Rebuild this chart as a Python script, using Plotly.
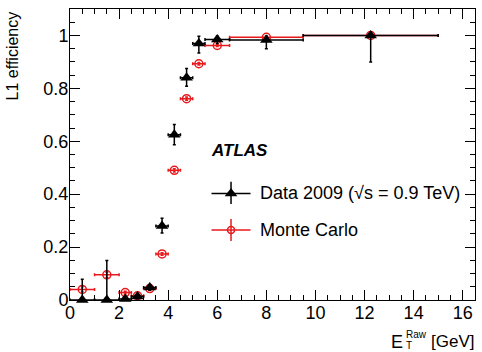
import plotly.graph_objects as go

# ---- data ----
x_data = [0.5, 1.5, 2.25, 2.75, 3.25, 3.75, 4.25, 4.75, 5.25, 6.0, 8.0, 12.25]
xerr_data = [0.5, 0.5, 0.25, 0.25, 0.25, 0.25, 0.25, 0.25, 0.25, 0.5, 1.5, 2.75]
y_data = [0.0, 0.0, 0.004, 0.013, 0.047, 0.28, 0.625, 0.84, 0.97, 0.985, 0.983, 1.0]
yerr_data_up = [0.078, 0.149, 0.008, 0.008, 0.01, 0.029, 0.038, 0.035, 0.027, 0.012, 0.015, 0.0]
yerr_data_dn = [0.0, 0.0, 0.004, 0.008, 0.01, 0.027, 0.038, 0.032, 0.036, 0.015, 0.033, 0.1]

x_mc = [0.5, 1.5, 2.25, 2.75, 3.25, 3.75, 4.25, 4.75, 5.25, 6.0, 8.0, 12.25]
xerr_mc = [0.5, 0.5, 0.25, 0.25, 0.25, 0.25, 0.25, 0.25, 0.25, 0.5, 1.5, 2.75]
y_mc = [0.04, 0.095, 0.028, 0.016, 0.043, 0.174, 0.49, 0.761, 0.893, 0.962, 0.993, 1.0]
yerr_mc = [0.01, 0.01, 0.005, 0.004, 0.005, 0.005, 0.006, 0.006, 0.005, 0.004, 0.003, 0.0]

legend_labels = ["Data 2009 (\u221as = 0.9 TeV)", "Monte Carlo"]

fig = go.Figure()

fig.add_trace(go.Scatter(
    x=x_mc, y=y_mc, mode="markers", cliponaxis=False,
    marker=dict(symbol="circle-open", size=8, color="#e8191c", line=dict(width=1.5, color="#e8191c")),
    error_x=dict(type="data", array=xerr_mc, color="#e8191c", thickness=1.5, width=1.5),
    error_y=dict(type="data", array=yerr_mc, color="#e8191c", thickness=1.5, width=1.5),
    showlegend=False))

fig.add_trace(go.Scatter(
    x=x_data, y=y_data, mode="markers", cliponaxis=False,
    marker=dict(symbol="triangle-up", size=11, color="black"),
    error_x=dict(type="data", array=xerr_data, color="black", thickness=1.5, width=1.5),
    error_y=dict(type="data", symmetric=False, array=yerr_data_up, arrayminus=yerr_data_dn,
                 color="black", thickness=1.5, width=1.5),
    showlegend=False))

# ---- hand-drawn legend samples ----
lx, lw = 6.56, 0.795
fig.add_trace(go.Scatter(
    x=[lx], y=[0.403], mode="markers", cliponaxis=False,
    marker=dict(symbol="triangle-up", size=11, color="black"),
    error_x=dict(type="constant", value=lw, color="black", thickness=1.5, width=0),
    error_y=dict(type="data", symmetric=False, array=[0.044], arrayminus=[0.040],
                 color="black", thickness=1.5, width=0),
    showlegend=False))
fig.add_trace(go.Scatter(
    x=[lx], y=[0.265], mode="markers", cliponaxis=False,
    marker=dict(symbol="circle-open", size=7, color="#e8191c", line=dict(width=1.5, color="#e8191c")),
    error_x=dict(type="constant", value=lw, color="#e8191c", thickness=1.5, width=0),
    error_y=dict(type="data", symmetric=False, array=[0.041], arrayminus=[0.042],
                 color="#e8191c", thickness=1.5, width=0),
    showlegend=False))

font = "Liberation Sans, Arial, Helvetica, sans-serif"
ann = [
    dict(text="<b><i>ATLAS</i></b>", x=0.3457, y=0.513, xanchor="left", yanchor="middle",
         font=dict(size=17)),
    dict(text=legend_labels[0], x=0.4667, y=0.3677, xanchor="left", yanchor="middle",
         font=dict(size=18)),
    dict(text=legend_labels[1], x=0.4667, y=0.2405, xanchor="left", yanchor="middle",
         font=dict(size=18)),
    dict(text="L1 efficiency", textangle=-90, x=-0.141, y=1.0, yshift=-1,
         xanchor="center", yanchor="top", font=dict(size=16)),
    dict(text="E", x=0.8247, y=-0.1443, xanchor="right", yanchor="middle", font=dict(size=18)),
    dict(text="Raw", x=0.8272, y=-0.119, xanchor="left", yanchor="middle", font=dict(size=10)),
    dict(text="T", x=0.8272, y=-0.158, xanchor="left", yanchor="middle", font=dict(size=10)),
    dict(text="[GeV]", x=1.0, y=-0.1443, xanchor="right", yanchor="middle", font=dict(size=17)),
]
for a in ann:
    a.update(xref="paper", yref="paper", showarrow=False, borderpad=0)
    a["font"]["family"] = font
    a["font"]["color"] = "black"

axis_common = dict(showline=True, linecolor="black", linewidth=1, mirror="allticks",
                   ticks="inside", ticklen=10, tickcolor="black", tickwidth=1,
                   showgrid=False, zeroline=False,
                   tickfont=dict(size=18, family=font, color="black"))

fig.update_xaxes(range=[0, 16.5], dtick=2, tick0=0, ticklabelstandoff=-4,
                 minor=dict(ticks="inside", ticklen=5, dtick=0.5, tickcolor="black", showgrid=False),
                 **axis_common)
fig.update_yaxes(range=[0, 1.1], dtick=0.2, tick0=0, ticklabelstandoff=-3,
                 minor=dict(ticks="inside", ticklen=5, dtick=0.05, tickcolor="black", showgrid=False),
                 **axis_common)

fig.update_layout(width=482, height=352, margin=dict(l=70, r=7, t=9, b=52),
                  paper_bgcolor="white", plot_bgcolor="white", annotations=ann,
                  font=dict(family=font, color="black"))

fig.write_html("out.html")
